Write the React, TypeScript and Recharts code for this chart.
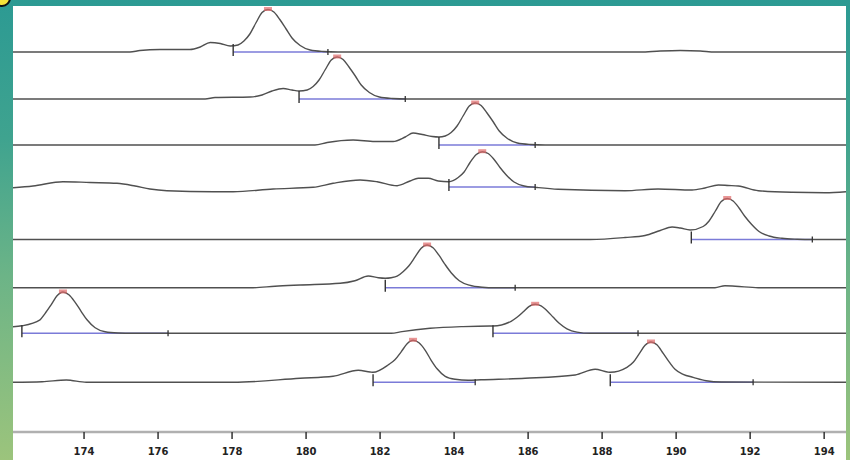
import React from 'react';
import { ComposedChart, Line, Scatter, XAxis, YAxis } from 'recharts';

// fragment size axis (bp)
const X_MIN = 172.08;
const X_MAX = 194.59;
const SIZE_TICKS = [174, 176, 178, 180, 182, 184, 186, 188, 190, 192, 194];

// vertical position of each lane's baseline in signal units (top lane first)
const LANE_BASE = [380, 333, 287, 245, 192.5, 144.3, 98.7, 49.7];

// [size, signal above baseline]
const lane1: [number, number][] = [
  [172.08, 0], [175.24, 0], [175.51, 1.5], [176.05, 2.5], [176.86, 2.5], [177.14, 5], [177.41, 9.5],
  [177.68, 8.5], [177.95, 6], [178.16, 7], [178.32, 11], [178.48, 18], [178.65, 29.5], [178.81, 39.5],
  [178.97, 42.5], [179.13, 40], [179.29, 32.5], [179.46, 23], [179.62, 14], [179.84, 6.5], [180.11, 2],
  [180.46, 0.5], [180.86, 0], [189.03, 0], [189.57, 1], [190.11, 1.5], [190.65, 1], [191.05, 0], [194.59, 0],
];
const lane2: [number, number][] = [
  [172.08, 0], [177.27, 0], [177.54, 1.5], [178.49, 2], [178.81, 4], [179.08, 8], [179.38, 10.5],
  [179.62, 9], [179.81, 8], [180.03, 9], [180.19, 12.5], [180.35, 19], [180.52, 29.5], [180.68, 39],
  [180.84, 42], [181.0, 39.5], [181.16, 32], [181.33, 23], [181.49, 14], [181.71, 6.5], [181.98, 2],
  [182.33, 0.5], [182.73, 0], [194.59, 0],
];
const lane3: [number, number][] = [
  [172.08, 0], [180.24, 0], [180.57, 2.5], [181.27, 5], [181.86, 3.5], [182.35, 3.5], [182.68, 8],
  [182.89, 12], [183.14, 10.5], [183.41, 8.5], [183.59, 8], [183.76, 9], [183.92, 12.5], [184.08, 19],
  [184.25, 29.5], [184.41, 39], [184.57, 42], [184.73, 39.5], [184.89, 32], [185.06, 23], [185.22, 14],
  [185.44, 6.5], [185.71, 2], [186.06, 0.5], [186.46, 0], [194.59, 0],
];
const lane4: [number, number][] = [
  [172.08, -0.7], [172.62, 1], [173.43, 5.3], [174.16, 4.5], [174.89, 3.7], [175.38, 1], [175.78, -2],
  [176.24, -3.7], [177.49, -4.7], [178.03, -4.7], [179.11, -2], [180.19, -0.3], [180.73, 3.7],
  [181.46, 7], [181.92, 5.3], [182.46, 1.3], [182.81, 6], [183.03, 8.7], [183.3, 8.7], [183.57, 6],
  [183.86, 5.3], [184.11, 9.5], [184.27, 15], [184.43, 24.5], [184.6, 32.5], [184.76, 35.3],
  [184.92, 33.5], [185.08, 27.5], [185.24, 19.5], [185.41, 12], [185.62, 5], [185.89, 1], [186.24, -0.5],
  [186.81, -2.3], [188.62, -3.7], [189.51, -2], [190.43, -3], [190.78, -1], [191.14, 2], [191.41, 1.5],
  [191.68, 1], [192.22, -3.7], [193.14, -5.3], [194.03, -5.7], [194.59, -4.7],
];
const lane5: [number, number][] = [
  [172.08, 0], [187.68, 0], [188.62, 2], [189.16, 4], [189.57, 9], [189.89, 12.5], [190.11, 11.5],
  [190.38, 9.5], [190.73, 13], [190.89, 18.5], [191.06, 28.5], [191.22, 38], [191.38, 41], [191.54, 38.5],
  [191.7, 31.5], [191.86, 23], [192.03, 15.5], [192.24, 8], [192.51, 3.5], [192.86, 1.2], [193.27, 0.3],
  [193.68, 0], [194.59, 0],
];
const lane6: [number, number][] = [
  [172.08, 0], [178.57, 0], [179.16, 1.5], [179.84, 2.7], [180.92, 4.4], [181.32, 7], [181.68, 11.7],
  [181.95, 10], [182.14, 9.5], [182.3, 10], [182.46, 11.5], [182.62, 16], [182.78, 22], [182.95, 31],
  [183.11, 39.5], [183.27, 42.7], [183.43, 40], [183.59, 32.5], [183.76, 23], [183.92, 15], [184.14, 7],
  [184.41, 2.5], [184.76, 0.5], [185.1, 0], [191.05, 0], [191.32, 2], [191.6, 1.5], [192.22, 0], [194.59, 0],
];
const lane7: [number, number][] = [
  [172.08, 6.5], [172.32, 7.5], [172.81, 13.5], [172.94, 19.5], [173.11, 28.5], [173.27, 37.5],
  [173.43, 41.3], [173.59, 38.5], [173.75, 31.5], [173.92, 22], [174.08, 13.5], [174.3, 5.5], [174.57, 1.5],
  [174.92, 0.3], [175.3, 0], [182.3, 0], [182.59, 1.7], [183.35, 5], [184.24, 6.7], [184.97, 7.3],
  [185.05, 7.3], [185.54, 12], [185.7, 16], [185.87, 21.5], [186.03, 27], [186.19, 29], [186.35, 27.5],
  [186.51, 22.5], [186.68, 16], [186.84, 10], [187.05, 4.5], [187.32, 1.2], [187.68, 0], [194.59, 0],
];
const lane8: [number, number][] = [
  [172.08, 0], [172.87, 0.5], [173.52, 2.3], [174.06, 0], [178.03, 0], [179.84, 4], [180.73, 6],
  [181.41, 12], [181.73, 10.3], [181.81, 10], [182.24, 18], [182.4, 22.5], [182.57, 30.5], [182.73, 38.5],
  [182.89, 42], [183.05, 39.5], [183.22, 32], [183.38, 22], [183.54, 13.5], [183.76, 6], [184.03, 3],
  [184.38, 2], [184.73, 2.5], [185.92, 4], [187.27, 7.3], [187.81, 13], [188.14, 10.3], [188.22, 10],
  [188.67, 15], [188.84, 20], [189.0, 28.5], [189.16, 37], [189.32, 40.3], [189.48, 37.5], [189.65, 29],
  [189.81, 20.5], [189.97, 13], [190.19, 8], [190.46, 5], [190.81, 1.5], [191.22, 0.3], [194.59, 0],
];
const LANES = [lane1, lane2, lane3, lane4, lane5, lane6, lane7, lane8];

// called peak windows: [lane index, start size, end size]
const WINDOWS: [number, number, number][] = [
  [0, 178.03, 180.59],
  [1, 179.81, 182.68],
  [2, 183.59, 186.19],
  [3, 183.86, 186.19],
  [4, 190.41, 193.68],
  [5, 182.14, 185.65],
  [6, 172.32, 176.27],
  [6, 185.05, 188.97],
  [7, 181.81, 184.57],
  [7, 188.22, 192.08],
];

const traceRows = LANES.map((pts, i) => pts.map(([x, h]) => ({ x, y: LANE_BASE[i] + h })));

const windowRows = WINDOWS.map(([lane, a, b]) => [
  { x: a, y: LANE_BASE[lane], end: false },
  { x: b, y: LANE_BASE[lane], end: true },
]);

// apex of each window, taken from the trace itself
const peakRows = WINDOWS.map(([lane, a, b]) => {
  const inside = traceRows[lane].filter((p) => p.x >= a && p.x <= b);
  return inside.reduce((m, p) => (p.y > m.y ? p : m), inside[0]);
});

const WindowTick = (props: any) => {
  const { cx, cy, payload, index } = props;
  if (cx == null || cy == null) return <g key={`t-${index}`} />;
  return payload.end ? (
    <line key={`t-${index}`} x1={cx} x2={cx} y1={cy - 3} y2={cy + 3} stroke="#333" strokeWidth={1.3} />
  ) : (
    <line key={`t-${index}`} x1={cx} x2={cx} y1={cy - 8} y2={cy + 4} stroke="#333" strokeWidth={1.4} />
  );
};

const PeakMark = (props: any) => {
  const { cx, cy } = props;
  return <rect x={cx - 4} y={cy - 2.5} width={8} height={4} fill="#e06a6a" opacity={0.7} />;
};

const App = () => {
  return (
    <div
      style={{
        position: 'fixed',
        left: 0,
        top: 0,
        width: 850,
        height: 460,
        overflow: 'hidden',
        background: 'linear-gradient(180deg, #2c9a93 0%, #3fa38f 30%, #6cb487 60%, #9cc47c 100%)',
      }}
    >
      <svg width={20} height={14} style={{ position: 'absolute', left: 0, top: 0 }}>
        <circle cx={2} cy={-2} r={8} fill="#f4e23a" stroke="#111" strokeWidth={2} />
      </svg>
      <div style={{ position: 'absolute', left: 13, top: 6, width: 833, height: 454, background: '#fff' }}>
        <ComposedChart width={833} height={454} margin={{ top: 0, right: 0, bottom: 0, left: 0 }}>
          <XAxis
            dataKey="x"
            type="number"
            domain={[X_MIN, X_MAX]}
            allowDataOverflow
            ticks={SIZE_TICKS}
            height={28}
            axisLine={{ stroke: '#b0b0b0', strokeWidth: 2.5 }}
            tickLine={{ stroke: '#333', strokeWidth: 1.5 }}
            tickSize={7}
            tickMargin={9}
            tick={{ fill: '#222', fontSize: 10, fontWeight: 700, fontFamily: 'DejaVu Sans' }}
          />
          <YAxis hide type="number" domain={[0, 426]} allowDataOverflow />
          {windowRows.map((rows, i) => (
            <Line
              key={`w${i}`}
              data={rows}
              dataKey="y"
              type="linear"
              stroke="#7b7bd8"
              strokeWidth={1.6}
              dot={WindowTick}
              activeDot={false}
              isAnimationActive={false}
            />
          ))}
          {traceRows.map((rows, i) => (
            <Line
              key={`l${i}`}
              data={rows}
              dataKey="y"
              type="monotone"
              stroke="#505050"
              strokeWidth={1.4}
              dot={false}
              activeDot={false}
              isAnimationActive={false}
            />
          ))}
          <Scatter data={peakRows} dataKey="y" shape={PeakMark} isAnimationActive={false} />
        </ComposedChart>
      </div>
    </div>
  );
};

export default App;
